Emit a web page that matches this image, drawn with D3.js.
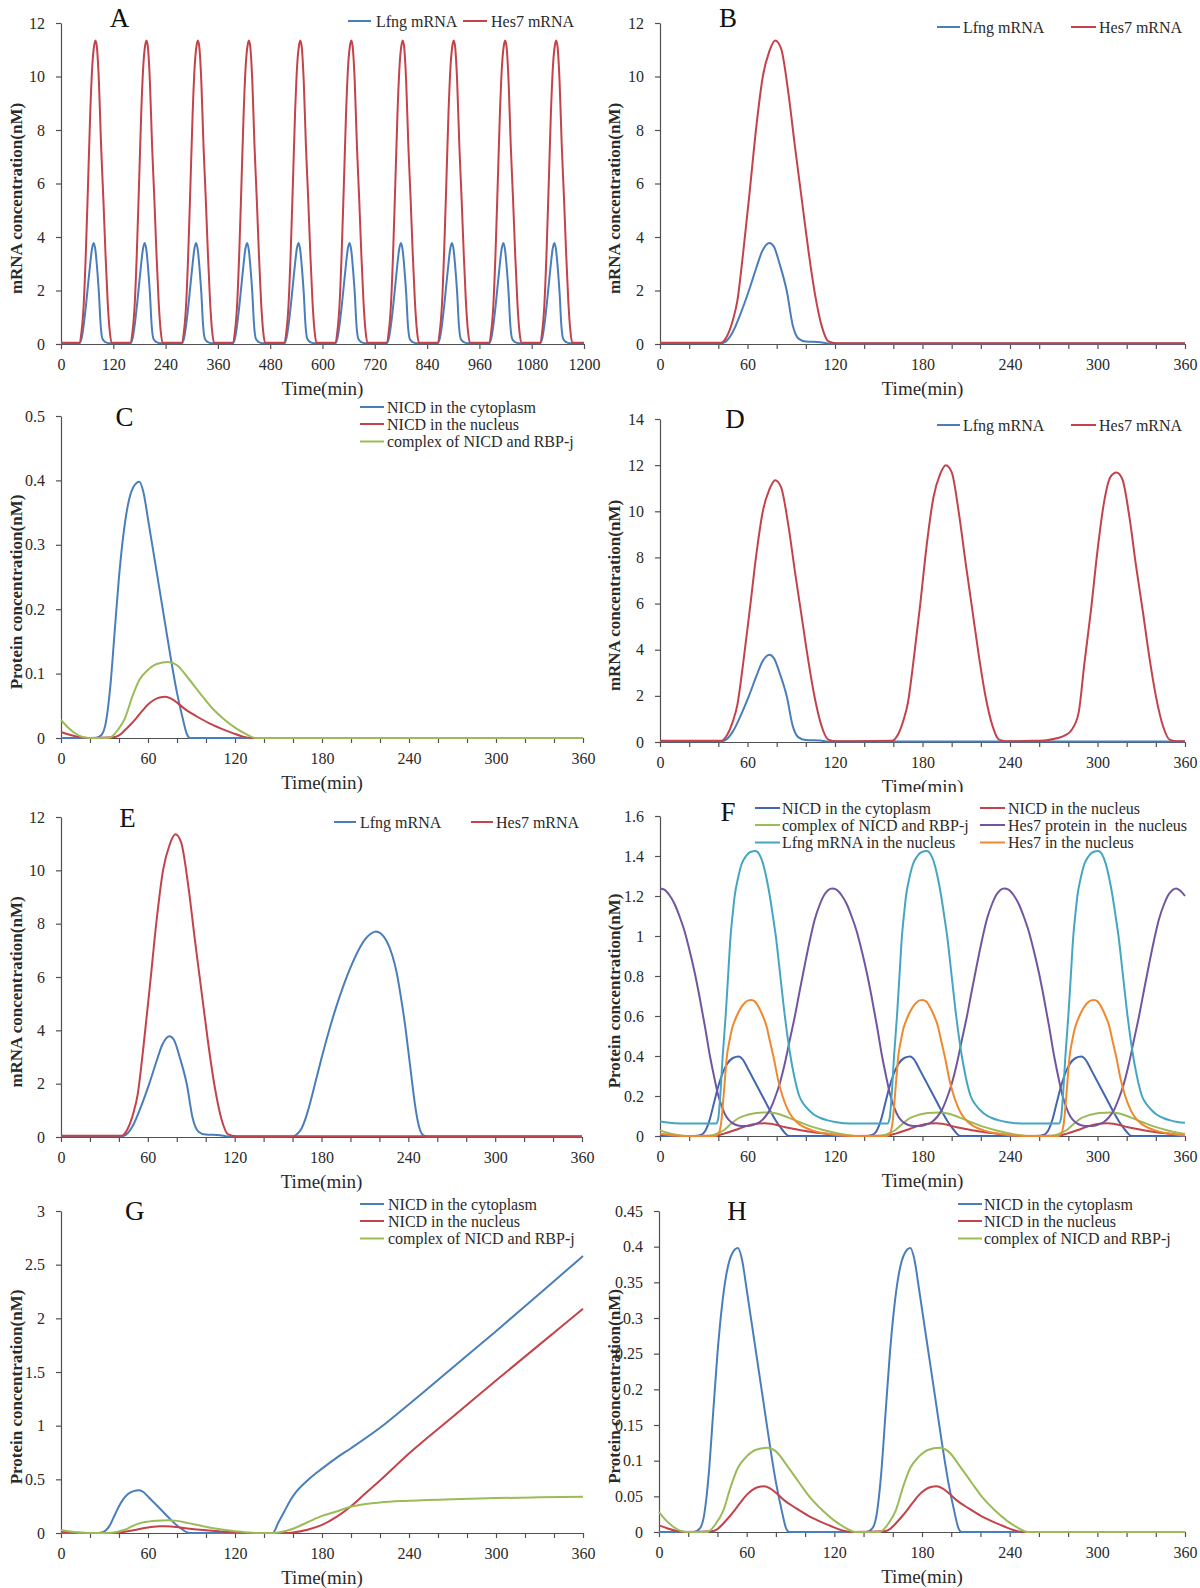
<!DOCTYPE html>
<html><head><meta charset="utf-8">
<script src="https://cdn.jsdelivr.net/npm/d3@7"></script>
<style>
html,body{margin:0;padding:0;background:#fff;}
svg{display:block;}
text{font-family:"Liberation Serif","Times New Roman",serif;}
</style></head><body>
<svg id="fig" width="1200" height="1588"></svg>
<script>
// ---------------- tick values ----------------
const A_xticks = [0,120,240,360,480,600,720,840,960,1080,1200];
const T360_minor = [0,20,40,60,80,100,120,140,160,180,200,220,240,260,280,300,320,340,360];
const T360_labels = [0,60,120,180,240,300,360];
const Y_mrna12 = [0,2,4,6,8,10,12];
const Y_mrna14 = [0,2,4,6,8,10,12,14];
const Y_C = [0,0.1,0.2,0.3,0.4,0.5];
const Y_F = [0,0.2,0.4,0.6,0.8,1,1.2,1.4,1.6];
const Y_G = [0,0.5,1,1.5,2,2.5,3];
const Y_H = [0,0.05,0.1,0.15,0.2,0.25,0.3,0.35,0.4,0.45];

// ---------------- Panel A ----------------
const A_lfng = [[0,.03],[42,.03],[47,.2],[52,.7],[57,1.4],[62,2.2],[67,3.0],[71,3.55],[75,3.78],[79,3.5],[83,2.8],[87,1.9],[91,.7],[95,.2],[101,.08],[111,.03],
[159,.03],[164,.2],[169,.7],[174,1.4],[179,2.2],[184,3.0],[188,3.55],[192,3.78],[196,3.5],[200,2.8],[204,1.9],[208,.7],[212,.2],[218,.08],[228,.03],
[277,.03],[282,.2],[287,.7],[292,1.4],[297,2.2],[302,3.0],[306,3.55],[310,3.78],[314,3.5],[318,2.8],[322,1.9],[326,.7],[330,.2],[336,.08],[346,.03],
[394,.03],[399,.2],[404,.7],[409,1.4],[414,2.2],[419,3.0],[423,3.55],[427,3.78],[431,3.5],[435,2.8],[439,1.9],[443,.7],[447,.2],[453,.08],[463,.03],
[512,.03],[517,.2],[522,.7],[527,1.4],[532,2.2],[537,3.0],[541,3.55],[545,3.78],[549,3.5],[553,2.8],[557,1.9],[561,.7],[565,.2],[571,.08],[581,.03],
[629,.03],[634,.2],[639,.7],[644,1.4],[649,2.2],[654,3.0],[658,3.55],[662,3.78],[666,3.5],[670,2.8],[674,1.9],[678,.7],[682,.2],[688,.08],[698,.03],
[747,.03],[752,.2],[757,.7],[762,1.4],[767,2.2],[772,3.0],[776,3.55],[780,3.78],[784,3.5],[788,2.8],[792,1.9],[796,.7],[800,.2],[806,.08],[816,.03],
[864,.03],[869,.2],[874,.7],[879,1.4],[884,2.2],[889,3.0],[893,3.55],[897,3.78],[901,3.5],[905,2.8],[909,1.9],[913,.7],[917,.2],[923,.08],[933,.03],
[982,.03],[987,.2],[992,.7],[997,1.4],[1002,2.2],[1007,3.0],[1011,3.55],[1015,3.78],[1019,3.5],[1023,2.8],[1027,1.9],[1031,.7],[1035,.2],[1041,.08],[1051,.03],
[1099,.03],[1104,.2],[1109,.7],[1114,1.4],[1119,2.2],[1124,3.0],[1128,3.55],[1132,3.78],[1136,3.5],[1140,2.8],[1144,1.9],[1148,.7],[1152,.2],[1158,.08],[1168,.03],[1200,.03]];
const A_hes7 = [[0,.05],[42,.05],[47,.45],[52,1.45],[57,3.4],[62,5.95],[67,8.6],[72,10.45],[76,11.15],[79,11.35],[82,11.15],[87,9.8],[92,7.4],[97,5.5],[102,3.4],[107,1.6],[112,.45],[116,.05],
[159,.05],[164,.45],[169,1.45],[174,3.4],[179,5.95],[184,8.6],[189,10.45],[193,11.15],[196,11.35],[199,11.15],[204,9.8],[209,7.4],[214,5.5],[219,3.4],[224,1.6],[229,.45],[233,.05],
[277,.05],[282,.45],[287,1.45],[292,3.4],[297,5.95],[302,8.6],[307,10.45],[311,11.15],[314,11.35],[317,11.15],[322,9.8],[327,7.4],[332,5.5],[337,3.4],[342,1.6],[347,.45],[351,.05],
[394,.05],[399,.45],[404,1.45],[409,3.4],[414,5.95],[419,8.6],[424,10.45],[428,11.15],[431,11.35],[434,11.15],[439,9.8],[444,7.4],[449,5.5],[454,3.4],[459,1.6],[464,.45],[468,.05],
[512,.05],[517,.45],[522,1.45],[527,3.4],[532,5.95],[537,8.6],[542,10.45],[546,11.15],[549,11.35],[552,11.15],[557,9.8],[562,7.4],[567,5.5],[572,3.4],[577,1.6],[582,.45],[586,.05],
[629,.05],[634,.45],[639,1.45],[644,3.4],[649,5.95],[654,8.6],[659,10.45],[663,11.15],[666,11.35],[669,11.15],[674,9.8],[679,7.4],[684,5.5],[689,3.4],[694,1.6],[699,.45],[703,.05],
[747,.05],[752,.45],[757,1.45],[762,3.4],[767,5.95],[772,8.6],[777,10.45],[781,11.15],[784,11.35],[787,11.15],[792,9.8],[797,7.4],[802,5.5],[807,3.4],[812,1.6],[817,.45],[821,.05],
[864,.05],[869,.45],[874,1.45],[879,3.4],[884,5.95],[889,8.6],[894,10.45],[898,11.15],[901,11.35],[904,11.15],[909,9.8],[914,7.4],[919,5.5],[924,3.4],[929,1.6],[934,.45],[938,.05],
[982,.05],[987,.45],[992,1.45],[997,3.4],[1002,5.95],[1007,8.6],[1012,10.45],[1016,11.15],[1019,11.35],[1022,11.15],[1027,9.8],[1032,7.4],[1037,5.5],[1042,3.4],[1047,1.6],[1052,.45],[1056,.05],
[1099,.05],[1104,.45],[1109,1.45],[1114,3.4],[1119,5.95],[1124,8.6],[1129,10.45],[1133,11.15],[1136,11.35],[1139,11.15],[1144,9.8],[1149,7.4],[1154,5.5],[1159,3.4],[1164,1.6],[1169,.45],[1173,.05],[1200,.05]];

// ---------------- Panel B ----------------
const B_lfng = [[0,.03],[42,.03],[45,.09],[50,.46],[55,1.1],[61,2.0],[66,2.84],[70,3.46],[75,3.78],[78,3.65],[82,3.0],[87,1.96],[91,.7],[95,.2],[100,.09],[110,.07],[115,.02],[360,.02]];
const B_hes7 = [[0,.05],[42,.05],[46,.3],[50,.9],[53,1.6],[57,3.4],[61.5,5.7],[66,8.1],[70.5,10.0],[75,10.95],[79,11.35],[83,11.05],[88,9.4],[92.5,7.4],[97,5.5],[101.5,3.6],[106,1.95],[111,.65],[115.5,.1],[121,.03],[360,.03]];

// ---------------- Panel C ----------------
const C_cyt = [[0,0],[24,0],[28,.005],[31,.025],[34,.08],[37,.165],[40,.25],[43,.315],[46,.36],[50,.39],[54,.398],[57,.38],[60,.34],[64,.285],[68,.23],[72,.175],[76,.12],[80,.07],[84,.03],[87,.005],[89,0],[360,0]];
const C_nuc = [[0,.0093],[6,.005],[12,.0015],[18,0],[36,.001],[40,.004],[44,.012],[48,.021],[52,.031],[56,.042],[60,.052],[64,.059],[68,.063],[72,.064],[76,.061],[80,.055],[86,.044],[94,.033],[102,.023],[110,.015],[118,.008],[125,.0025],[131,0],[360,0]];
const C_cpx = [[0,.028],[5,.016],[10,.007],[15,.0015],[20,0],[33,0],[36,.004],[39,.012],[44,.03],[49,.063],[54,.09],[60,.106],[66,.115],[74,.118],[80,.113],[88,.092],[96,.069],[104,.047],[112,.03],[120,.016],[128,.0055],[134,0],[360,0]];

// ---------------- Panel D ----------------
const D_lfng = [[0,.03],[42,.03],[45,.09],[50,.46],[55,1.1],[61,2.0],[66,2.84],[70,3.46],[75,3.78],[78,3.65],[82,3.0],[87,1.96],[91,.7],[95,.2],[100,.09],[110,.07],[115,.02],[360,.02]];
const D_hes7 = [[0,.05],[42,.05],[46,.3],[50,.9],[53,1.6],[57,3.4],[61.5,5.7],[66,8.1],[70.5,10.0],[75,10.95],[79,11.35],[83,11.05],[88,9.4],[92.5,7.4],[97,5.5],[101.5,3.6],[106,1.95],[111,.65],[115.5,.1],[121,.03],
[159,.05],[163,.3],[167,.95],[170,1.7],[174,3.6],[178.5,6.0],[183,8.6],[187.5,10.6],[192,11.6],[196,12.0],[200,11.7],[205,9.9],[209.5,7.8],[214,5.8],[218.5,3.8],[223,2.05],[228,.7],[232.5,.1],[238,.03],
[255,.05],[265,.08],[272,.16],[278,.3],[282,.5],[287,1.25],[291,3.4],[295.5,5.7],[300,8.3],[304.5,10.4],[309,11.5],[313,11.68],[317,11.4],[322,9.7],[326.5,7.6],[331,5.7],[335.5,3.7],[340,2.0],[345,.67],[349.5,.1],[355,.03],[360,.03]];

// ---------------- Panel E ----------------
const E_lfng = [[0,.03],[42,.03],[45,.09],[50,.46],[55,1.1],[61,2.0],[66,2.84],[70,3.46],[75,3.78],[78,3.65],[82,3.0],[87,1.96],[91,.7],[95,.2],[100,.09],[110,.07],[115,.02],
[160,.02],[163,.1],[166,.3],[169,.7],[172,1.25],[176,2.1],[180,2.95],[185,3.95],[190,4.85],[195,5.65],[200,6.35],[205,6.95],[210,7.4],[214,7.62],[217.5,7.71],[221,7.63],[225,7.35],[229,6.8],[232,6.15],[235,5.2],[238,4.1],[240.5,3.0],[242.5,2.1],[244.5,1.25],[246.5,.6],[248.5,.2],[250.5,.06],[253,.02],[360,.02]];
const E_hes7 = [[0,.05],[42,.05],[46,.3],[50,.9],[53,1.6],[57,3.4],[61.5,5.7],[66,8.1],[70.5,10.0],[75,10.95],[79,11.35],[83,11.05],[88,9.4],[92.5,7.4],[97,5.5],[101.5,3.6],[106,1.95],[111,.65],[115.5,.1],[121,.03],[360,.03]];

// ---------------- Panel F ----------------
const F_cyt = [[0,0],[24,0],[28,.005],[31,.025],[34,.08],[37,.165],[40,.25],[43,.315],[46,.36],[50,.39],[54,.398],[57,.38],[60,.34],[64,.285],[68,.23],[72,.175],[76,.12],[80,.07],[84,.03],[87,.005],[89,0],
[141.5,0],[145.5,.005],[148.5,.025],[151.5,.08],[154.5,.165],[157.5,.25],[160.5,.315],[163.5,.36],[167.5,.39],[171.5,.398],[174.5,.38],[177.5,.34],[181.5,.285],[185.5,.23],[189.5,.175],[193.5,.12],[197.5,.07],[201.5,.03],[204.5,.005],[206.5,0],
[259,0],[263,.005],[266,.025],[269,.08],[272,.165],[275,.25],[278,.315],[281,.36],[285,.39],[289,.398],[292,.38],[295,.34],[299,.285],[303,.23],[307,.175],[311,.12],[315,.07],[319,.03],[322,.005],[324,0],[360,0]];
const F_nuc = [[0,.0093],[6,.005],[12,.0015],[18,0],[36,.001],[40,.004],[44,.012],[48,.021],[52,.031],[56,.042],[60,.052],[64,.059],[68,.063],[72,.064],[76,.061],[80,.055],[86,.044],[94,.033],[102,.023],[110,.015],[118,.008],[125,.0025],[131,0],
[153.5,.001],[157.5,.004],[161.5,.012],[165.5,.021],[169.5,.031],[173.5,.042],[177.5,.052],[181.5,.059],[185.5,.063],[189.5,.064],[193.5,.061],[197.5,.055],[203.5,.044],[211.5,.033],[219.5,.023],[227.5,.015],[235.5,.008],[242.5,.0025],[248.5,0],
[271,.001],[275,.004],[279,.012],[283,.021],[287,.031],[291,.042],[295,.052],[299,.059],[303,.063],[307,.064],[311,.061],[315,.055],[321,.044],[329,.033],[337,.023],[345,.015],[353,.008],[360,.003]];
const F_cpx = [[0,.028],[5,.016],[10,.007],[15,.0015],[20,0],[33,0],[36,.004],[39,.012],[44,.03],[49,.063],[54,.09],[60,.106],[66,.115],[74,.118],[80,.113],[88,.092],[96,.069],[104,.047],[112,.03],[120,.016],[128,.0055],[134,0],
[150.5,0],[153.5,.004],[156.5,.012],[161.5,.03],[166.5,.063],[171.5,.09],[177.5,.106],[183.5,.115],[191.5,.118],[197.5,.113],[205.5,.092],[213.5,.069],[221.5,.047],[229.5,.03],[237.5,.016],[245.5,.0055],[251.5,0],
[268,0],[271,.004],[274,.012],[279,.03],[284,.063],[289,.09],[295,.106],[301,.115],[309,.118],[315,.113],[323,.092],[331,.069],[339,.047],[347,.03],[355,.016],[360,.01]];
const F_hes7p = [[0,1.238],[3,1.232],[6.4,1.205],[10,1.16],[13.3,1.1],[17,1.02],[20.2,.93],[24,.81],[27,.7],[31,.54],[34,.41],[37,.3],[39.7,.21],[42.5,.145],[45.4,.097],[49,.068],[52.3,.055],[56,.05],[60.3,.05],[64,.056],[68.4,.07],[72,.095],[75.3,.13],[78.5,.185],[82,.26],[85.5,.36],[89,.48],[92.5,.6],[95.9,.73],[99.4,.86],[102.8,.98],[106,1.08],[109.7,1.16],[113,1.21],[118,1.238],
[121,1.232],[124.4,1.205],[128,1.16],[131.3,1.1],[135,1.02],[138.2,.93],[142,.81],[145,.7],[149,.54],[152,.41],[155,.3],[157.7,.21],[160.5,.145],[163.4,.097],[167,.068],[170.3,.055],[174,.05],[178.3,.05],[182,.056],[186.4,.07],[190,.095],[193.3,.13],[196.5,.185],[200,.26],[203.5,.36],[207,.48],[210.5,.6],[213.9,.73],[217.4,.86],[220.8,.98],[224,1.08],[227.7,1.16],[231,1.21],[236,1.238],
[239,1.232],[242.4,1.205],[246,1.16],[249.3,1.1],[253,1.02],[256.2,.93],[260,.81],[263,.7],[267,.54],[270,.41],[273,.3],[275.7,.21],[278.5,.145],[281.4,.097],[285,.068],[288.3,.055],[292,.05],[296.3,.05],[300,.056],[304.4,.07],[308,.095],[311.3,.13],[314.5,.185],[318,.26],[321.5,.36],[325,.48],[328.5,.6],[331.9,.73],[335.4,.86],[338.8,.98],[342,1.08],[345.7,1.16],[349,1.21],[354,1.238],[357,1.225],[360,1.2]];
const F_lfngn = [[0,.072],[5,.068],[10,.064],[20,.062],[38.5,.062],[40,.09],[41.3,.2],[43,.4],[45,.6],[46.7,.8],[48.4,1.0],[50,1.12],[51.2,1.2],[53.5,1.29],[56,1.36],[59,1.4],[62,1.42],[65.6,1.425],[68,1.41],[70.7,1.36],[73,1.29],[75.3,1.2],[77.4,1.1],[79.4,1.0],[82.5,.8],[85.6,.6],[89,.42],[92,.3],[95.5,.2],[98.5,.16],[102,.13],[106,.105],[110,.09],[115,.078],[120,.07],[126,.064],[135,.062],
[156,.062],[157.5,.09],[158.8,.2],[160.5,.4],[162.5,.6],[164.2,.8],[165.9,1.0],[167.5,1.12],[168.7,1.2],[171,1.29],[173.5,1.36],[176.5,1.4],[179.5,1.42],[183.1,1.425],[185.5,1.41],[188.2,1.36],[190.5,1.29],[192.8,1.2],[194.9,1.1],[196.9,1.0],[200,.8],[203.1,.6],[206.5,.42],[209.5,.3],[213,.2],[216,.16],[219.5,.13],[223.5,.105],[227.5,.09],[232.5,.078],[237.5,.07],[243.5,.064],[252.5,.062],
[273.5,.062],[275,.09],[276.3,.2],[278,.4],[280,.6],[281.7,.8],[283.4,1.0],[285,1.12],[286.2,1.2],[288.5,1.29],[291,1.36],[294,1.4],[297,1.42],[300.6,1.425],[303,1.41],[305.7,1.36],[308,1.29],[310.3,1.2],[312.4,1.1],[314.4,1.0],[317.5,.8],[320.6,.6],[324,.42],[327,.3],[330.5,.2],[333.5,.16],[337,.13],[341,.105],[345,.09],[350,.078],[355,.07],[360,.066]];
const F_hes7n = [[0,.012],[5,.006],[10,.002],[18,0],[38,0],[40,.01],[42,.07],[43.6,.2],[44.7,.3],[45.9,.4],[47.5,.47],[49.5,.54],[52,.59],[55,.635],[58,.665],[60.5,.678],[62.6,.68],[65,.673],[68,.64],[70.5,.6],[73,.55],[75.5,.47],[78,.39],[81,.28],[84,.2],[86.7,.147],[89,.112],[91.3,.088],[95,.062],[98.2,.047],[103,.032],[107.4,.022],[114,.012],[121,.005],[130,.001],[140,0],
[155.5,0],[157.5,.01],[159.5,.07],[161.1,.2],[162.2,.3],[163.4,.4],[165,.47],[167,.54],[169.5,.59],[172.5,.635],[175.5,.665],[178,.678],[180.1,.68],[182.5,.673],[185.5,.64],[188,.6],[190.5,.55],[193,.47],[195.5,.39],[198.5,.28],[201.5,.2],[204.2,.147],[206.5,.112],[208.8,.088],[212.5,.062],[215.7,.047],[220.5,.032],[224.9,.022],[231.5,.012],[238.5,.005],[247.5,.001],[257.5,0],
[273,0],[275,.01],[277,.07],[278.6,.2],[279.7,.3],[280.9,.4],[282.5,.47],[284.5,.54],[287,.59],[290,.635],[293,.665],[295.5,.678],[297.6,.68],[300,.673],[303,.64],[305.5,.6],[308,.55],[310.5,.47],[313,.39],[316,.28],[319,.2],[321.7,.147],[324,.112],[326.3,.088],[330,.062],[333.2,.047],[338,.032],[342.4,.022],[349,.012],[356,.005],[360,.003]];

// ---------------- Panel G ----------------
const G_cyt = [[0,0],[24,0],[28,.005],[31,.025],[34,.08],[37,.165],[40,.25],[43,.315],[46,.36],[50,.39],[54,.398],[57,.38],[60,.34],[64,.285],[68,.23],[72,.175],[76,.12],[80,.07],[84,.03],[87,.005],[89,0],
[146,0],[150,.1],[154,.2],[158,.3],[162,.38],[170,.49],[180,.6],[190,.7],[200,.79],[220,.98],[240,1.2],[270,1.54],[300,1.88],[330,2.23],[360,2.58]];
const G_nuc = [[0,.0093],[6,.005],[12,.0015],[18,0],[36,.001],[40,.004],[44,.012],[48,.021],[52,.031],[56,.042],[60,.052],[64,.059],[68,.063],[72,.064],[76,.061],[80,.055],[86,.044],[94,.033],[102,.023],[110,.015],[118,.008],[125,.0025],[131,0],
[155,0],[160,.005],[170,.03],[180,.075],[190,.15],[200,.25],[210,.37],[220,.49],[240,.74],[270,1.08],[300,1.42],[330,1.755],[360,2.09]];
const G_cpx = [[0,.028],[5,.016],[10,.007],[15,.0015],[20,0],[33,0],[36,.004],[39,.012],[44,.03],[49,.063],[54,.09],[60,.106],[66,.115],[74,.118],[80,.113],[88,.092],[96,.069],[104,.047],[112,.03],[120,.016],[128,.0055],[134,0],
[145,0],[150,.005],[160,.04],[170,.1],[180,.16],[190,.2],[200,.245],[210,.27],[220,.285],[240,.3],[270,.315],[300,.325],[330,.332],[360,.338]];

// ---------------- Panel H ----------------
const H_cyt = [[0,0],[24,0],[28,.005],[31,.025],[34,.08],[37,.165],[40,.25],[43,.315],[46,.36],[50,.39],[54,.398],[57,.38],[60,.34],[64,.285],[68,.23],[72,.175],[76,.12],[80,.07],[84,.03],[87,.005],[89,0],
[142,0],[146,.005],[149,.025],[152,.08],[155,.165],[158,.25],[161,.315],[164,.36],[168,.39],[172,.398],[175,.38],[178,.34],[182,.285],[186,.23],[190,.175],[194,.12],[198,.07],[202,.03],[205,.005],[207,0],[360,0]];
const H_nuc = [[0,.0093],[6,.005],[12,.0015],[18,0],[36,.001],[40,.004],[44,.012],[48,.021],[52,.031],[56,.042],[60,.052],[64,.059],[68,.063],[72,.064],[76,.061],[80,.055],[86,.044],[94,.033],[102,.023],[110,.015],[118,.008],[125,.0025],[131,0],
[154,.001],[158,.004],[162,.012],[166,.021],[170,.031],[174,.042],[178,.052],[182,.059],[186,.063],[190,.064],[194,.061],[198,.055],[204,.044],[212,.033],[220,.023],[228,.015],[236,.008],[243,.0025],[249,0],[360,0]];
const H_cpx = [[0,.028],[5,.016],[10,.007],[15,.0015],[20,0],[33,0],[36,.004],[39,.012],[44,.03],[49,.063],[54,.09],[60,.106],[66,.115],[74,.118],[80,.113],[88,.092],[96,.069],[104,.047],[112,.03],[120,.016],[128,.0055],[134,0],
[151,0],[154,.004],[157,.012],[162,.03],[167,.063],[172,.09],[178,.106],[184,.115],[192,.118],[198,.113],[206,.092],[214,.069],[222,.047],[230,.03],[238,.016],[246,.0055],[252,0],[360,0]];

// ---------------- styles ----------------
const BLUE = "#4A7EBB", RED = "#C4424A", GREEN = "#9BBB59", PURPLE = "#7155A0", CYAN = "#45A6C2", ORANGE = "#F0892E", FBLUE = "#4466B0";
const MRNA = "mRNA concentration(nM)", PROT = "Protein concentration(nM)";
const N_CYT = "NICD in the cytoplasm", N_NUC = "NICD in the nucleus", N_CPX = "complex of NICD and RBP-j";

const panels = [
 {id:"A", left:61, right:584, top:23, bottom:344, xd:[0,1200], yd:[0,12], xMinor:A_xticks, xLab:A_xticks, yT:Y_mrna12, yTitle:MRNA, tX:16, let:[119.5,18],
  series:[{d:A_lfng,c:BLUE,n:"Lfng mRNA"},{d:A_hes7,c:RED,n:"Hes7 mRNA"}],
  leg:[[348,371,376,21],[463,487,491,21]]},
 {id:"B", left:660, right:1185, top:23, bottom:344, xd:[0,360], yd:[0,12], xMinor:T360_minor, xLab:T360_labels, yT:Y_mrna12, yTitle:MRNA, tX:614, let:[728,18],
  series:[{d:B_lfng,c:BLUE,n:"Lfng mRNA"},{d:B_hes7,c:RED,n:"Hes7 mRNA"}],
  leg:[[937,960,963,27],[1071,1096,1099,27]]},
 {id:"C", left:61, right:583, top:416, bottom:738, xd:[0,360], yd:[0,0.5], xMinor:T360_minor, xLab:T360_labels, yT:Y_C, yTitle:PROT, tX:16, let:[124.6,417],
  series:[{d:C_cyt,c:BLUE,n:N_CYT},{d:C_nuc,c:RED,n:N_NUC},{d:C_cpx,c:GREEN,n:N_CPX}],
  leg:[[360,384,387,407],[360,384,387,424],[360,384,387,441.5]]},
 {id:"D", left:660, right:1185, top:419, bottom:742, xd:[0,360], yd:[0,14], xMinor:T360_minor, xLab:T360_labels, yT:Y_mrna14, yTitle:MRNA, tX:614, let:[735,419], clipTitle:792,
  series:[{d:D_lfng,c:BLUE,n:"Lfng mRNA"},{d:D_hes7,c:RED,n:"Hes7 mRNA"}],
  leg:[[937,960,963,425],[1071,1096,1099,425]]},
 {id:"E", left:61, right:582, top:817, bottom:1137, xd:[0,360], yd:[0,12], xMinor:T360_minor, xLab:T360_labels, yT:Y_mrna12, yTitle:MRNA, tX:16, let:[127.6,818],
  series:[{d:E_lfng,c:BLUE,n:"Lfng mRNA"},{d:E_hes7,c:RED,n:"Hes7 mRNA"}],
  leg:[[334,356,360,822],[471,493,496,822]]},
 {id:"F", left:660, right:1185, top:816, bottom:1136, xd:[0,360], yd:[0,1.6], xMinor:T360_minor, xLab:T360_labels, yT:Y_F, yTitle:PROT, tX:614, let:[728,812],
  series:[{d:F_cyt,c:FBLUE,n:N_CYT},{d:F_nuc,c:RED,n:N_NUC},{d:F_cpx,c:GREEN,n:N_CPX},{d:F_hes7p,c:PURPLE,n:"Hes7 protein in  the nucleus"},{d:F_lfngn,c:CYAN,n:"Lfng mRNA in the nucleus"},{d:F_hes7n,c:ORANGE,n:"Hes7 in the nucleus"}],
  leg:[[755,780,782,808],[980,1005,1008,808],[755,780,782,825],[980,1005,1008,825],[755,780,782,842.5],[980,1005,1008,842.5]]},
 {id:"G", left:61, right:583, top:1211, bottom:1533, xd:[0,360], yd:[0,3], xMinor:T360_minor, xLab:T360_labels, yT:Y_G, yTitle:PROT, tX:16, let:[134.7,1211],
  series:[{d:G_cyt,c:BLUE,n:N_CYT},{d:G_nuc,c:RED,n:N_NUC},{d:G_cpx,c:GREEN,n:N_CPX}],
  leg:[[360,384,388,1204],[360,384,388,1221],[360,384,388,1238.5]]},
 {id:"H", left:659, right:1185, top:1211, bottom:1532, xd:[0,360], yd:[0,0.45], xMinor:T360_minor, xLab:T360_labels, yT:Y_H, yTitle:PROT, tX:614, let:[737,1211],
  series:[{d:H_cyt,c:BLUE,n:N_CYT},{d:H_nuc,c:RED,n:N_NUC},{d:H_cpx,c:GREEN,n:N_CPX}],
  leg:[[958,982,984,1204],[958,982,984,1221],[958,982,984,1238.5]]}
];

const svg = d3.select("#fig");
svg.append("rect").attr("width",1200).attr("height",1588).attr("fill","#fff");
const AX = "#505050", TXT = "#2a2a2a", FONT = "'Liberation Serif','Times New Roman',serif";

panels.forEach(p => {
  const g = svg.append("g").attr("id","panel"+p.id);
  const x = d3.scaleLinear().domain(p.xd).range([p.left,p.right]);
  const y = d3.scaleLinear().domain(p.yd).range([p.bottom,p.top]);

  const xa = g.append("g").attr("transform",`translate(0,${p.bottom})`)
    .call(d3.axisBottom(x).tickValues(p.xMinor).tickSize(5).tickSizeOuter(0).tickPadding(10)
      .tickFormat(d => p.xLab.includes(d) ? String(d) : ""));
  const ya = g.append("g").attr("transform",`translate(${p.left},0)`)
    .call(d3.axisLeft(y).tickValues(p.yT).tickSize(5).tickSizeOuter(0).tickPadding(11)
      .tickFormat(d => String(d)));
  [xa,ya].forEach(a => {
    a.attr("font-family",FONT).attr("font-size",16);
    a.selectAll(".domain").attr("stroke",AX).attr("stroke-width",1.2);
    a.selectAll(".tick line").attr("stroke",AX).attr("stroke-width",1.2);
    a.selectAll(".tick text").attr("fill",TXT);
  });

  const line = d3.line().x(d => x(d[0])).y(d => y(d[1])).curve(d3.curveMonotoneX);
  p.series.forEach(s => {
    g.append("path").datum(s.d).attr("d",line).attr("fill","none")
      .attr("stroke",s.c).attr("stroke-width",2).attr("stroke-linejoin","round");
  });

  // x title
  let tg = g;
  if (p.clipTitle) {
    svg.append("clipPath").attr("id","clip"+p.id).append("rect")
      .attr("x",p.left).attr("y",p.bottom).attr("width",p.right-p.left).attr("height",p.clipTitle-p.bottom);
    tg = g.append("g").attr("clip-path",`url(#clip${p.id})`);
  }
  tg.append("text").attr("x",(p.left+p.right)/2).attr("y",p.bottom+44)
    .attr("text-anchor","middle").attr("dominant-baseline","central")
    .attr("font-size",19).attr("fill",TXT).text("Time(min)");

  // y title
  const cy = (p.top+p.bottom)/2 + 15;
  g.append("text").attr("transform",`translate(${p.tX},${cy}) rotate(-90)`)
    .attr("text-anchor","middle").attr("dominant-baseline","central")
    .attr("font-size",17).attr("font-weight","bold").attr("fill",TXT).text(p.yTitle);

  // panel letter
  g.append("text").attr("x",p.let[0]).attr("y",p.let[1]).attr("text-anchor","middle")
    .attr("dominant-baseline","central").attr("font-size",27).attr("fill","#111").text(p.id);

  // legend
  p.series.forEach((s,i) => {
    const L = p.leg[i];
    g.append("line").attr("x1",L[0]).attr("x2",L[1]).attr("y1",L[3]).attr("y2",L[3])
      .attr("stroke",s.c).attr("stroke-width",2);
    g.append("text").attr("x",L[2]).attr("y",L[3]).attr("dominant-baseline","central")
      .attr("font-size",16).attr("fill",TXT).attr("xml:space","preserve").text(s.n);
  });
});
</script>
</body></html>
